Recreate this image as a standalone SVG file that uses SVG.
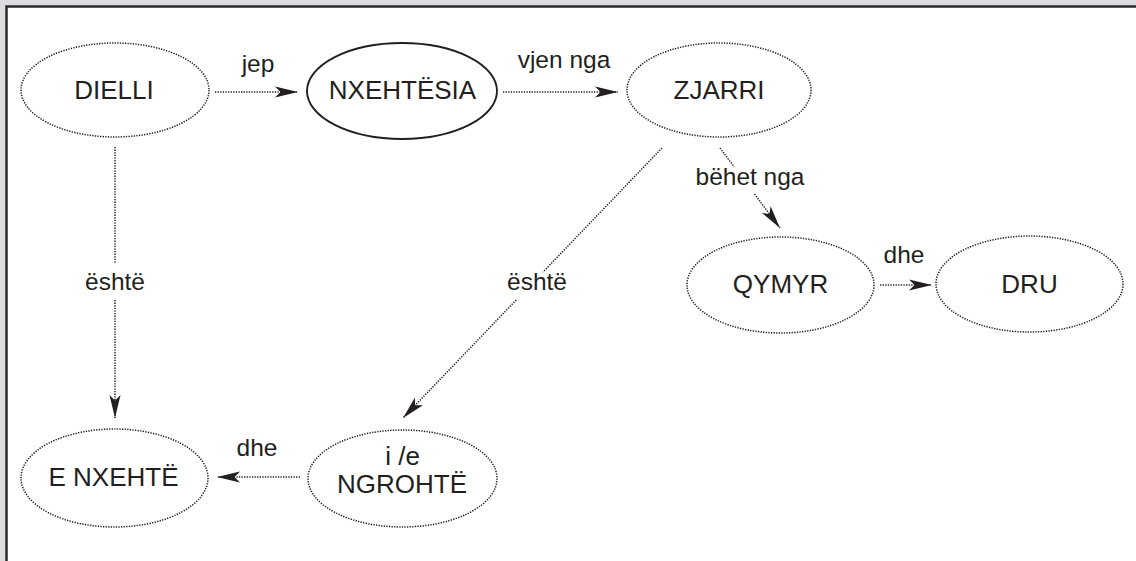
<svg xmlns="http://www.w3.org/2000/svg" width="1136" height="561" viewBox="0 0 1136 561">
  <defs>
    <style>
      .node-dotted { fill: none; stroke: #231f20; stroke-width: 1.5; stroke-dasharray: 1.3 1.3; }
      .node-solid { fill: none; stroke: #231f20; stroke-width: 1.9; }
      .conn { fill: none; stroke: #231f20; stroke-width: 1.5; stroke-dasharray: 1.3 1.3; marker-end: url(#arrow); }
      .node-text { font-family: "Liberation Sans", Arial, sans-serif; font-size: 26px; fill: #231f20; text-anchor: middle; }
      .label { font-family: "Liberation Sans", Arial, sans-serif; font-size: 24.5px; fill: #231f20; text-anchor: middle; }
    </style>
    <marker id="arrow" markerUnits="userSpaceOnUse" viewBox="-24 -7 25 14" refX="0" refY="0" markerWidth="25" markerHeight="14" orient="auto">
      <path d="M0,0 L-23,-5.5 L-17.5,0 L-23,5.5 Z" fill="#231f20"/>
    </marker>
  </defs>

  <!-- page background and frame -->
  <rect x="0" y="0" width="1136" height="561" fill="#dcdde0"/>
  <rect x="6.5" y="6.5" width="1140" height="570" fill="#ffffff" stroke="#2a2a2a" stroke-width="2.5"/>

  <!-- connectors -->
  <g id="connectors">
    <path class="conn" d="M215,92 L298,92"/>
    <text class="label" x="258" y="72">jep</text>

    <path class="conn" d="M503,92 L618,92"/>
    <text class="label" x="564" y="68">vjen nga</text>

    <path class="conn" d="M720,148 L734.3,167 M754.5,194 L780,228"/>
    <text class="label" x="750" y="185">bëhet nga</text>

    <path class="conn" d="M662,148 L543,272 M516.2,300 L403,418"/>
    <text class="label" x="537" y="290">është</text>

    <path class="conn" d="M880,285 L932,285"/>
    <text class="label" x="904" y="263">dhe</text>

    <path class="conn" d="M115,147 L115,264 M115,300 L115,418"/>
    <text class="label" x="115" y="290">është</text>

    <path class="conn" d="M300,477 L217,477"/>
    <text class="label" x="257" y="456">dhe</text>
  </g>

  <!-- nodes -->
  <g id="node-dielli">
    <ellipse class="node-dotted" cx="115" cy="90" rx="94" ry="47"/>
    <text class="node-text" x="114" y="99">DIELLI</text>
  </g>
  <g id="node-nxehtesia">
    <ellipse class="node-solid" cx="402" cy="91" rx="95" ry="48"/>
    <text class="node-text" x="402.5" y="99">NXEHTËSIA</text>
  </g>
  <g id="node-zjarri">
    <ellipse class="node-dotted" cx="719" cy="90" rx="92" ry="47"/>
    <text class="node-text" x="719" y="99">ZJARRI</text>
  </g>
  <g id="node-qymyr">
    <ellipse class="node-dotted" cx="780.5" cy="285" rx="93.5" ry="48"/>
    <text class="node-text" x="780.5" y="293">QYMYR</text>
  </g>
  <g id="node-dru">
    <ellipse class="node-dotted" cx="1029.5" cy="284" rx="93.5" ry="48"/>
    <text class="node-text" x="1029.5" y="293">DRU</text>
  </g>
  <g id="node-e-nxehte">
    <ellipse class="node-dotted" cx="114.5" cy="478" rx="93.5" ry="49"/>
    <text class="node-text" x="113.5" y="486">E NXEHTË</text>
  </g>
  <g id="node-ngrohte">
    <ellipse class="node-dotted" cx="402.5" cy="478.5" rx="94.5" ry="48.5"/>
    <text class="node-text" x="402.5" y="465">i /e</text>
    <text class="node-text" x="402" y="493">NGROHTË</text>
  </g>
</svg>
